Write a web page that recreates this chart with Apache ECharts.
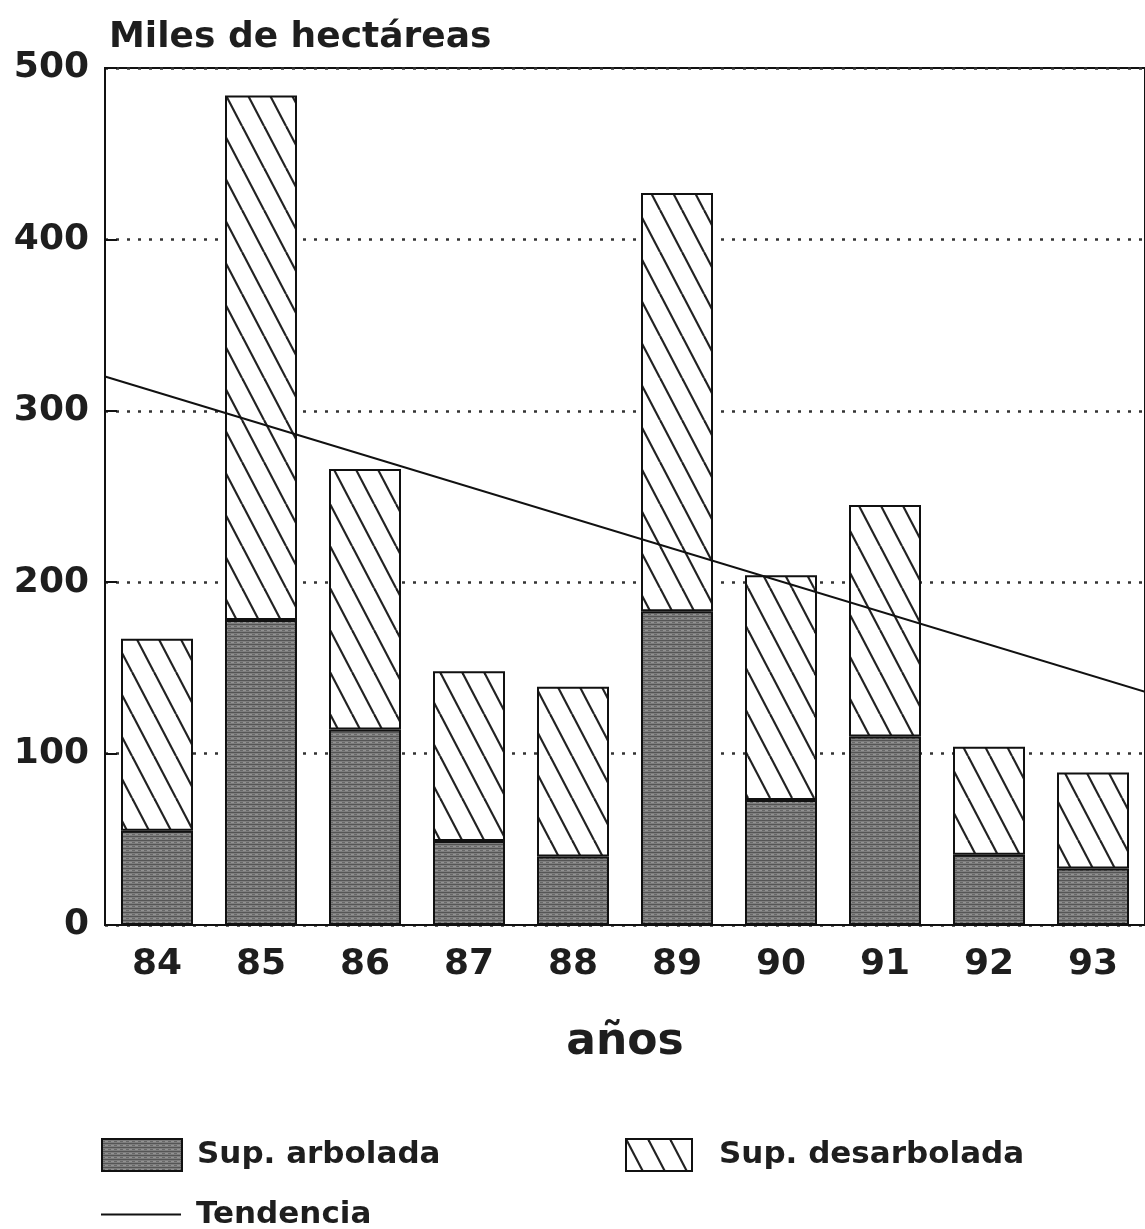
<!DOCTYPE html>
<html>
<head>
<meta charset="utf-8">
<script src="https://cdn.jsdelivr.net/npm/echarts@6/dist/echarts.min.js"></script>
<style>
html,body{margin:0;padding:0;background:#fff;}
#chart{width:1145px;height:1229px;}
</style>
</head>
<body>
<div id="chart"></div>
<script>
// ---- data (miles de hectáreas) ----
const years = ['84','85','86','87','88','89','90','91','92','93'];
const arbolada = [55, 178, 114, 49, 40, 183, 73, 110, 41, 33];
const desarbolada = [112, 306, 152, 99, 99, 244, 131, 135, 63, 56];
// trend line read at the two plot edges (category index -0.5 and 9.5)
const trendX = [-0.5, 9.5];
const trendY = [320, 136];
const yTicks = [0, 100, 200, 300, 400, 500];

const FONT = 'DejaVu Sans';
const INK = '#1e1e1e';

// ---- fill patterns ----
function hatchPattern() {
  const w = 22, h = 42;
  const c = document.createElement('canvas');
  c.width = w; c.height = h;
  const g = c.getContext('2d');
  g.fillStyle = '#ffffff';
  g.fillRect(0, 0, w, h);
  g.strokeStyle = '#222';
  g.lineWidth = 2.2;
  for (let k = -1; k <= 1; k++) {
    g.beginPath();
    g.moveTo(k * w, 0);
    g.lineTo(k * w + w, h);
    g.stroke();
  }
  return c;
}
function greyPattern() {
  const w = 6, h = 4;
  const c = document.createElement('canvas');
  c.width = w; c.height = h;
  const g = c.getContext('2d');
  g.fillStyle = '#7e7e7e';
  g.fillRect(0, 0, w, h);
  g.fillStyle = '#555555';
  g.fillRect(0, 0, w, 1);
  g.fillStyle = '#686868';
  g.fillRect(0, 2, 3, 1);
  g.fillStyle = '#939393';
  g.fillRect(3, 2, 3, 1);
  return c;
}

const chart = echarts.init(document.getElementById('chart'), null, {renderer: 'canvas'});

const legendText = {fontFamily: FONT, fontWeight: 'bold', fontSize: 31, color: INK, padding: [0, 0, 0, 10]};
const legendText2 = Object.assign({}, legendText, {padding: [0, 0, 0, 22]});

chart.setOption({
  backgroundColor: '#ffffff',
  animation: false,
  title: {
    text: 'Miles de hectáreas',
    left: 104, top: 15,
    textStyle: {fontFamily: FONT, fontWeight: 'bold', fontSize: 36, color: INK}
  },
  grid: {
    left: 105, right: -9, top: 68, bottom: 304,
    show: true, borderColor: '#111', borderWidth: 2, backgroundColor: 'transparent'
  },
  legend: [
    {data: ['Sup. arbolada'], left: 96, top: 1133, icon: 'rect', itemWidth: 80, itemHeight: 32, itemGap: 0, textStyle: legendText},
    {data: ['Sup. desarbolada'], left: 620, top: 1133, icon: 'rect', itemWidth: 66, itemHeight: 32, itemGap: 0, textStyle: legendText2},
    {data: ['Tendencia'], left: 96, top: 1194, icon: 'rect', itemWidth: 80, itemHeight: 2, itemGap: 0, textStyle: legendText}
  ],
  xAxis: [
    {
      type: 'category', data: years, position: 'bottom',
      axisLine: {show: true, lineStyle: {color: '#111', width: 2}},
      axisTick: {show: false},
      axisLabel: {fontFamily: FONT, fontWeight: 'bold', fontSize: 36, color: INK, margin: 22},
      name: 'años', nameLocation: 'middle', nameGap: 96,
      nameTextStyle: {fontFamily: FONT, fontWeight: 'bold', fontSize: 44, color: INK}
    },
    {
      type: 'value', min: -0.5, max: 9.5, show: false
    }
  ],
  yAxis: {
    type: 'value', min: yTicks[0], max: yTicks[yTicks.length - 1], interval: 100,
    axisLine: {show: true, onZero: false, lineStyle: {color: '#111', width: 2}},
    axisTick: {show: true, inside: true, length: 12, lineStyle: {color: '#111', width: 2}},
    axisLabel: {fontFamily: FONT, fontWeight: 'bold', fontSize: 36, color: INK, margin: 16},
    splitLine: {show: true, lineStyle: {color: '#333', width: 2.5, type: [3, 8]}}
  },
  series: [
    {
      name: 'Sup. arbolada', type: 'bar', stack: 'total', data: arbolada, barWidth: 72,
      itemStyle: {color: {image: greyPattern(), repeat: 'repeat'}, borderColor: '#111', borderWidth: 2}
    },
    {
      name: 'Sup. desarbolada', type: 'bar', stack: 'total', data: desarbolada, barWidth: 72,
      itemStyle: {color: {image: hatchPattern(), repeat: 'repeat'}, borderColor: '#111', borderWidth: 2}
    },
    {
      name: 'Tendencia', type: 'line', xAxisIndex: 1,
      data: trendX.map((x, i) => [x, trendY[i]]),
      symbol: 'none', lineStyle: {color: '#111', width: 2}, itemStyle: {color: '#111'},
      z: 5
    }
  ]
});
</script>
</body>
</html>
